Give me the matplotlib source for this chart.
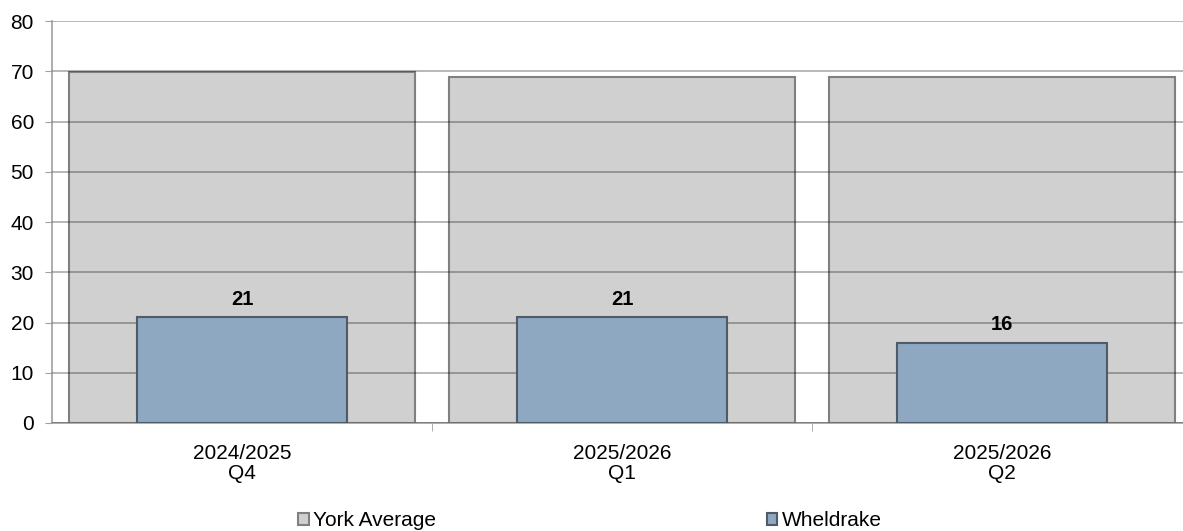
import matplotlib.pyplot as plt
import numpy as np

plt.rcParams['font.family'] = ['Liberation Sans', 'DejaVu Sans']

# quarter labels and series values
quarters = ["2024/2025\nQ4", "2025/2026\nQ1", "2025/2026\nQ2"]
york_average = [69.8, 68.9, 68.9]
wheldrake = [21, 21, 16]

x = np.arange(len(quarters))

fig = plt.figure(figsize=(11.83, 5.31), dpi=100)
ax = fig.add_axes([0.044, 0.2034, 0.9636, 0.757])

ax.bar(x, york_average, width=0.91, color="#d0d0d0", edgecolor="#808080",
       linewidth=1.5, zorder=2, label="York Average")
ax.bar(x, wheldrake, width=0.555, color="#8ea8c2", edgecolor="#4f5b67",
       linewidth=1.5, zorder=3, label="Wheldrake")

# value labels above the local bars
for xi, v in zip(x, wheldrake):
    ax.annotate(str(v), (xi, v), xytext=(0, 6), textcoords="offset points",
                ha="center", va="bottom", fontsize=14.5, fontweight="bold",
                zorder=5)

ax.set_xlim(-0.5, 2.5)
ax.set_ylim(0, 80)
ax.set_yticks(range(0, 81, 10))
ax.set_xticks(x)
ax.set_xticklabels(quarters, linespacing=1.05)
ax.set_xticks([0.5, 1.5], minor=True)
ax.tick_params(axis="x", which="major", length=0, pad=15, labelsize=15)
ax.tick_params(axis="x", which="minor", length=6, color="#a0a0a0")
ax.tick_params(axis="y", length=5, color="#a0a0a0", labelsize=15, pad=8)

# grid drawn over the bars, as in the spreadsheet original
ax.yaxis.grid(True, color="black", alpha=0.33, linewidth=1.2, zorder=4)
ax.set_axisbelow(False)
for s in ["top", "right"]:
    ax.spines[s].set_visible(False)
for s in ["left", "bottom"]:
    ax.spines[s].set_color("#a0a0a0")
    ax.spines[s].set_linewidth(1.2)

leg = fig.legend(loc="center left", bbox_to_anchor=(0.252, 0.019), ncol=2,
                 frameon=False, fontsize=15, handlelength=0.5,
                 handleheight=0.5, handletextpad=0.2, columnspacing=15.9,
                 borderaxespad=0, borderpad=0)

fig.savefig("out.png", dpi=100)
